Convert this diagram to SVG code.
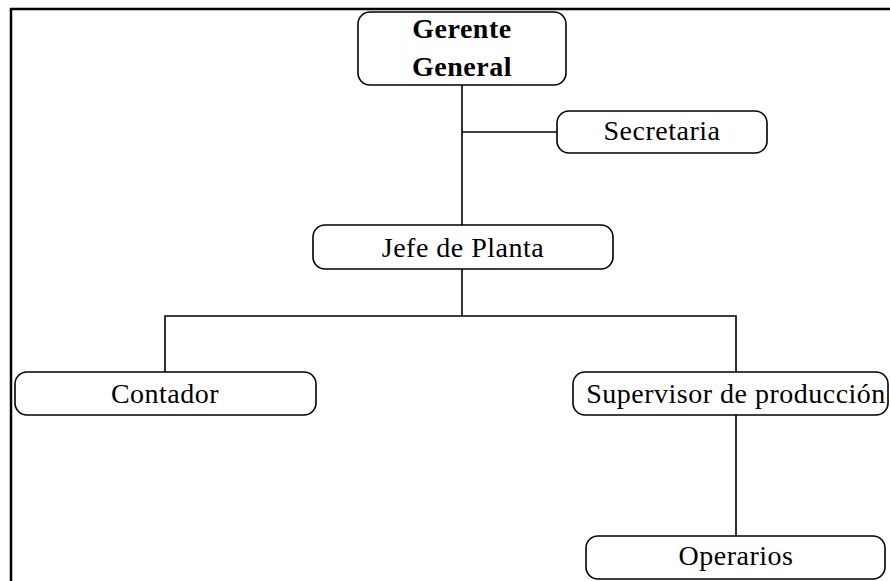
<svg xmlns="http://www.w3.org/2000/svg" width="890" height="581" viewBox="0 0 890 581">
  <style>
    .box { fill: #ffffff; stroke: #000000; stroke-width: 1.6; }
    .wire { fill: none; stroke: #000000; stroke-width: 1.6; }
    .frame { fill: none; stroke: #000000; stroke-width: 2.5; }
    text { font-family: "Liberation Serif", "Times New Roman", serif; font-size: 28px; fill: #000000; text-anchor: middle; letter-spacing: 0.5px; }
    .bold { font-weight: bold; }
  </style>
  <rect width="890" height="581" fill="#ffffff"/>
  <!-- page frame -->
  <path class="frame" d="M11,581 V9 H890"/>

  <!-- connectors -->
  <g id="connectors">
    <path class="wire" d="M462,85 V225"/>
    <path class="wire" d="M462,132 H557"/>
    <path class="wire" d="M462,269 V316"/>
    <path class="wire" d="M165,372 V316 H736 V372"/>
    <path class="wire" d="M736,415 V536"/>
  </g>

  <g id="gerente-general">
    <rect class="box" x="358" y="12" width="208" height="73" rx="12"/>
    <text class="bold" x="462" y="38">Gerente</text>
    <text class="bold" x="462" y="76">General</text>
  </g>
  <g id="secretaria">
    <rect class="box" x="557" y="111" width="210" height="42" rx="12"/>
    <text x="662" y="140">Secretaria</text>
  </g>
  <g id="jefe-de-planta">
    <rect class="box" x="313" y="225" width="300" height="44" rx="12"/>
    <text x="463" y="257">Jefe de Planta</text>
  </g>
  <g id="contador">
    <rect class="box" x="15" y="372" width="301" height="43" rx="12"/>
    <text x="165" y="403">Contador</text>
  </g>
  <g id="supervisor">
    <rect class="box" x="573" y="372" width="315" height="43" rx="12"/>
    <text x="736" y="403">Supervisor de producción</text>
  </g>
  <g id="operarios">
    <rect class="box" x="586" y="536" width="299" height="43" rx="12"/>
    <text x="736" y="565">Operarios</text>
  </g>
</svg>
